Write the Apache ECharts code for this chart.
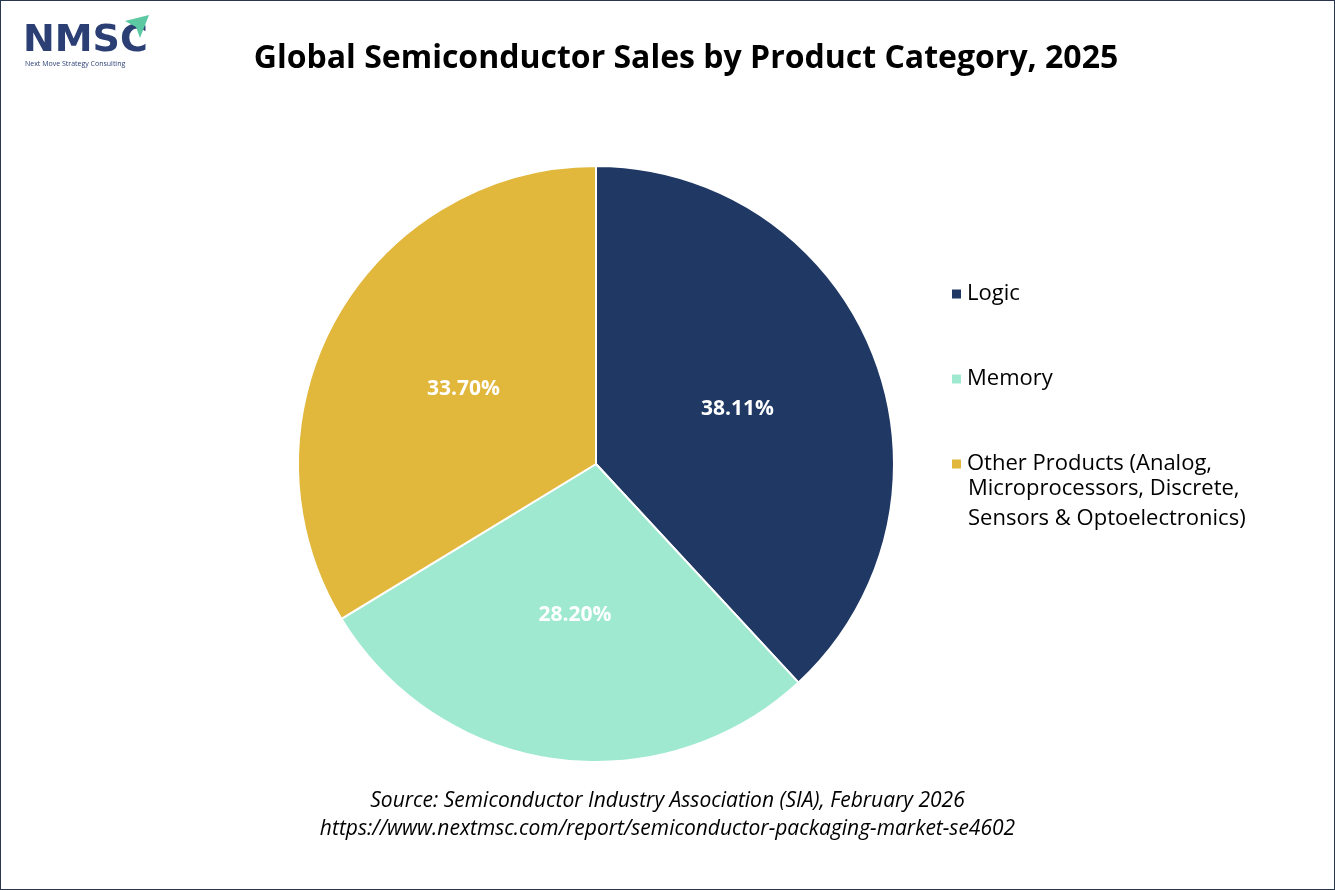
<!DOCTYPE html>
<html><head><meta charset="utf-8">
<script src="https://cdn.jsdelivr.net/npm/echarts@6/dist/echarts.min.js"></script>
<style>html,body{margin:0;padding:0;background:#fff}#c{width:1335px;height:890px;box-sizing:border-box;border:1px solid #2a3550}</style>
</head><body><div id="c"></div>
<script>
const categories = ["Logic", "Memory", "Other Products (Analog,"];
const extraLegendLines = ["Microprocessors, Discrete,", "Sensors & Optoelectronics)"];
const values = [38.11, 28.20, 33.70];
const colors = ["#203864", "#a0e9d1", "#e1b73c"];
const chart = echarts.init(document.getElementById('c'));
chart.setOption({
  animation: false,
  title: {text: "Global Semiconductor Sales by Product Category, 2025", left: 680, top: 37, textAlign: 'center',
    textStyle: {fontFamily: 'Open Sans', fontWeight: 'bold', fontSize: 32, color: '#000'}},
  legend: {orient: 'vertical', left: 944, top: 273, itemWidth: 11, itemHeight: 11, itemGap: 55, icon: 'rect',
    textStyle: {fontFamily: 'Open Sans', fontSize: 22, color: '#000', lineHeight: 30}},
  graphic: [
    {type: 'text', left: 22, top: 21, style: {text: 'NMSC', font: 'bold 38px "DejaVu Sans"', fill: '#2b3f75'}},
    {type: 'text', left: 24, top: 59, style: {text: 'Next Move Strategy Consulting', font: '7px "Open Sans"', fill: '#2b3f75'}},
    {type: 'polygon', shape: {points: [[124, 20], [148, 14], [139, 37], [135, 26]]}, style: {fill: '#5cc9a3'}},
    {type: 'text', left: 967, top: 473, style: {text: extraLegendLines.join('\n'), font: '22px "Open Sans"', lineHeight: 30, fill: '#000'}},
    {type: 'text', left: 'center', top: 790, style: {text: 'Source: Semiconductor Industry Association (SIA), February 2026', font: 'italic 21px "Open Sans"', fill: '#000'}},
    {type: 'text', left: 'center', top: 818, style: {text: 'https://www.nextmsc.com/report/semiconductor-packaging-market-se4602', font: 'italic 21px "Open Sans"', fill: '#000'}}
  ],
  series: [{
    type: 'pie', center: [595, 463], radius: 298, startAngle: 90, clockwise: true,
    itemStyle: {borderColor: '#fff', borderWidth: 2},
    label: {position: 'inside', formatter: p => p.value.toFixed(2) + '%', color: '#fff',
      fontFamily: 'Open Sans', fontWeight: 'bold', fontSize: 21},
    labelLine: {show: false},
    data: categories.map((n, i) => ({name: n, value: values[i], itemStyle: {color: colors[i]}}))
  }]
});
</script></body></html>
